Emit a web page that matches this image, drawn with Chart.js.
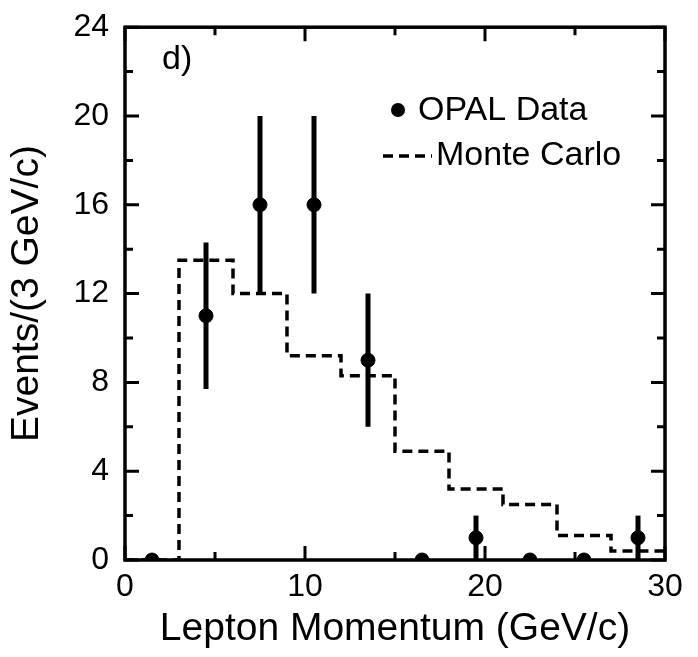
<!DOCTYPE html>
<html>
<head>
<meta charset="utf-8">
<script src="https://cdn.jsdelivr.net/npm/chart.js@4"></script>
<style>
  html, body { margin: 0; padding: 0; background: #fff; }
  #wrap { width: 698px; height: 657px; }
</style>
</head>
<body>
<div id="wrap"><canvas id="c" width="698" height="657"></canvas></div>
<script>
// OPAL data points (bin centres, counts, error bars)
const dataX = [1.5, 4.5, 7.5, 10.5, 13.5, 16.5, 19.5, 22.5, 25.5, 28.5];
const dataY = [0, 11, 16, 16, 9, 0, 1, 0, 0, 1];
const errLo = [0, 7.7, 12, 12, 6, 0, 0, 0, 0, 0];
const errHi = [0, 14.3, 20, 20, 12, 0, 2, 0, 0, 2];

// Monte Carlo histogram, bin edges and contents
const binEdges = [0, 3, 6, 9, 12, 15, 18, 21, 24, 27, 30];
const mcValues = [0, 13.5, 12, 9.2, 8.3, 4.9, 3.2, 2.5, 1.1, 0.4];

const xTicks = [0, 10, 20, 30];
const yTicks = [0, 4, 8, 12, 16, 20, 24];

const mcPoints = [];
mcValues.forEach((v, i) => {
  mcPoints.push({ x: binEdges[i], y: v });
  mcPoints.push({ x: binEdges[i + 1], y: v });
});

const FONT = 'Helvetica, "Liberation Sans", Arial, sans-serif';

const decor = {
  id: 'decor',
  afterDatasetsDraw(chart) {
    const { ctx, chartArea: a, scales: { x, y } } = chart;
    ctx.save();
    // error bars
    ctx.strokeStyle = '#000';
    ctx.lineWidth = 5;
    dataX.forEach((xv, i) => {
      if (errHi[i] > errLo[i]) {
        const px = x.getPixelForValue(xv);
        ctx.beginPath();
        ctx.moveTo(px, y.getPixelForValue(errLo[i]));
        ctx.lineTo(px, y.getPixelForValue(errHi[i]));
        ctx.stroke();
      }
    });
    // frame
    ctx.lineWidth = 3.5;
    ctx.strokeRect(a.left, a.top, a.right - a.left, a.bottom - a.top);
    // inward ticks
    ctx.lineWidth = 3;
    for (let v = 0; v <= 30; v += 5) {
      const px = x.getPixelForValue(v);
      const len = v % 10 === 0 ? 14 : 8;
      ctx.beginPath();
      ctx.moveTo(px, a.bottom); ctx.lineTo(px, a.bottom - len);
      ctx.moveTo(px, a.top); ctx.lineTo(px, a.top + len);
      ctx.stroke();
    }
    for (let v = 0; v <= 24; v += 2) {
      const py = y.getPixelForValue(v);
      const len = v % 4 === 0 ? 14 : 8;
      ctx.beginPath();
      ctx.moveTo(a.left, py); ctx.lineTo(a.left + len, py);
      ctx.moveTo(a.right, py); ctx.lineTo(a.right - len, py);
      ctx.stroke();
    }
    // panel label and legend
    ctx.fillStyle = '#000';
    ctx.font = '34px ' + FONT;
    ctx.textBaseline = 'middle';
    ctx.fillText('d)', 162, 60);
    ctx.beginPath();
    ctx.arc(398, 110, 7, 0, Math.PI * 2);
    ctx.fill();
    ctx.fillText('OPAL Data', 418, 111);
    ctx.setLineDash([10, 6]);
    ctx.lineWidth = 3.5;
    ctx.beginPath();
    ctx.moveTo(383, 156); ctx.lineTo(432, 156);
    ctx.stroke();
    ctx.setLineDash([]);
    ctx.fillText('Monte Carlo', 436, 156);
    ctx.restore();
  }
};

new Chart(document.getElementById('c'), {
  type: 'scatter',
  data: {
    datasets: [
      {
        type: 'line',
        data: mcPoints,
        borderColor: '#000',
        borderWidth: 3.5,
        borderDash: [10, 6],
        pointRadius: 0,
        fill: false
      },
      {
        data: dataX.map((xv, i) => ({ x: xv, y: dataY[i] })),
        backgroundColor: '#000',
        borderColor: '#000',
        pointRadius: 7
      }
    ]
  },
  options: {
    responsive: false,
    animation: false,
    layout: { padding: { top: 22, right: 33, left: 0, bottom: 0 } },
    plugins: { legend: { display: false }, tooltip: { enabled: false } },
    scales: {
      x: {
        type: 'linear', min: 0, max: 30,
        afterBuildTicks: s => { s.ticks = xTicks.map(v => ({ value: v })); },
        afterFit: s => { s.height = 97; },
        grid: { display: false },
        border: { display: false },
        ticks: { color: '#000', font: { size: 32, family: FONT }, padding: 0 },
        title: { display: true, text: 'Lepton Momentum (GeV/c)', color: '#000', font: { size: 39, family: FONT }, padding: { top: 0 } }
      },
      y: {
        min: 0, max: 24,
        afterBuildTicks: s => { s.ticks = yTicks.map(v => ({ value: v })); },
        afterFit: s => { s.width = 125; },
        grid: { display: false },
        border: { display: false },
        ticks: { color: '#000', font: { size: 32, family: FONT }, padding: 8 },
        title: { display: true, text: 'Events/(3 GeV/c)', color: '#000', font: { size: 39, family: FONT }, padding: { bottom: 0 } }
      }
    }
  },
  plugins: [decor]
});
</script>
</body>
</html>
